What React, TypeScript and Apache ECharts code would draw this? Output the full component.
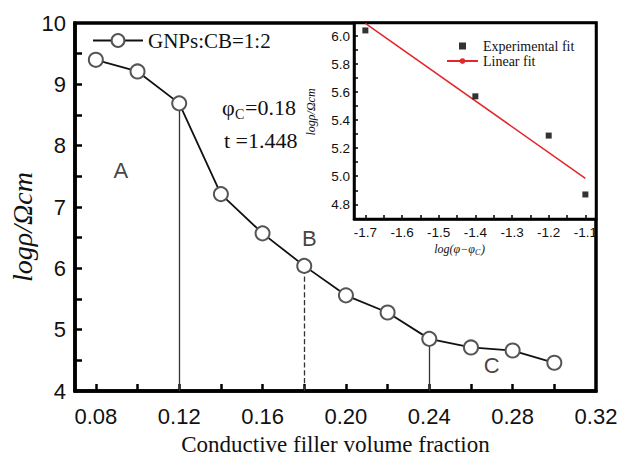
import React, { useEffect, useRef } from 'react';
import * as echarts from 'echarts';

// Main curve
const fillerFraction = [0.08, 0.10, 0.12, 0.14, 0.16, 0.18, 0.20, 0.22, 0.24, 0.26, 0.28, 0.30];
const logResistivity = [9.40, 9.21, 8.69, 7.21, 6.57, 6.04, 5.56, 5.28, 4.85, 4.71, 4.66, 4.46];
const mainXLabels = [0.08, 0.12, 0.16, 0.20, 0.24, 0.28, 0.32];
const mainXTickValues = [0.08, 0.10, 0.12, 0.14, 0.16, 0.18, 0.20, 0.22, 0.24, 0.26, 0.28, 0.30];
const mainYLabels = [4, 5, 6, 7, 8, 9, 10];
const mainYTickValues = [4.5, 5, 5.5, 6, 6.5, 7, 7.5, 8, 8.5, 9, 9.5];
const dropLineX = [0.12, 0.18, 0.24];
const dropLineDashed = [false, true, false];
const regionLabels = ['A', 'B', 'C'];
const regionLabelX = [0.092, 0.1825, 0.27];
const regionLabelY = [7.6, 6.48, 4.41];

// Inset
const insetLogPhi = [-1.7, -1.4, -1.2, -1.1];
const insetLogRho = [6.04, 5.57, 5.29, 4.87];
const fitX = [-1.7, -1.1];
const fitY = [6.09, 4.985];
const insetXLabels = [-1.7, -1.6, -1.5, -1.4, -1.3, -1.2, -1.1];
const insetXTickValues = [-1.7, -1.65, -1.6, -1.55, -1.5, -1.45, -1.4, -1.35, -1.3, -1.25, -1.2, -1.15, -1.1];
const insetYLabels = [4.8, 5.0, 5.2, 5.4, 5.6, 5.8, 6.0];
const insetYTickValues = [4.7, 4.8, 4.9, 5.0, 5.1, 5.2, 5.3, 5.4, 5.5, 5.6, 5.7, 5.8, 5.9, 6.0];

const SANS = 'Liberation Sans';
const SERIF = 'Liberation Serif';

const MAIN = { left: 75, top: 23, width: 521, height: 368 };
const INSET = { left: 354, top: 23, width: 242, height: 196 };

export default function App() {
  const ref = useRef<HTMLDivElement>(null);
  useEffect(() => {
    if (!ref.current) return;
    const chart = echarts.init(ref.current, undefined, { renderer: 'svg' });
    const dropData = dropLineX.map((x, i) => [
      { coord: [x, 4], lineStyle: { type: dropLineDashed[i] ? 'dashed' : 'solid', color: '#333', width: 1.3 } },
      { coord: [x, logResistivity[fillerFraction.indexOf(x)]] },
    ]);
    const txt = (text: string, x: number, y: number, size: number, opts: any = {}) => ({
      type: 'text', x, y, rotation: opts.rotation || 0, z: 50,
      style: {
        text, fontSize: size, fontFamily: SERIF, fontStyle: opts.italic ? 'italic' : 'normal',
        fill: '#111', align: opts.align || 'left', verticalAlign: 'middle',
      },
    });
    const option: any = {
      animation: false,
      grid: [
        { ...MAIN, outerBoundsMode: 'none', containLabel: false, show: true, borderColor: '#000', borderWidth: 3.5 },
        { ...INSET, outerBoundsMode: 'none', containLabel: false, show: true, borderColor: '#000', borderWidth: 2.5, backgroundColor: '#fff' },
      ],
      xAxis: [
        {
          type: 'value', gridIndex: 0, min: 0.07, max: 0.32,
          axisLine: { show: true, lineStyle: { color: '#000', width: 3.5 } },
          axisTick: { show: true, inside: true, length: 7, customValues: mainXTickValues, lineStyle: { color: '#000', width: 2.5 } },
          axisLabel: { customValues: mainXLabels, formatter: (v: number) => v.toFixed(2), fontSize: 22, fontFamily: SANS, color: '#111', margin: 14 },
          splitLine: { show: false },
          name: 'Conductive filler volume fraction', nameLocation: 'middle', nameGap: 42,
          nameTextStyle: { fontSize: 23, fontFamily: SERIF, color: '#111' },
        },
        {
          type: 'value', gridIndex: 1, min: -1.731, max: -1.071,
          axisLine: { show: true, lineStyle: { color: '#000', width: 2.5 } },
          axisTick: { show: true, inside: true, length: 4, customValues: insetXTickValues, lineStyle: { color: '#000', width: 1.5 } },
          axisLabel: { customValues: insetXLabels, formatter: (v: number) => v.toFixed(1), fontSize: 13.5, fontFamily: SANS, color: '#111', margin: 6 },
          splitLine: { show: false },
        },
      ],
      yAxis: [
        {
          type: 'value', gridIndex: 0, min: 4, max: 10,
          axisLine: { show: true, lineStyle: { color: '#000', width: 3.5 } },
          axisTick: { show: true, inside: true, length: 7, customValues: mainYTickValues, lineStyle: { color: '#000', width: 2.5 } },
          axisLabel: { customValues: mainYLabels, fontSize: 22, fontFamily: SANS, color: '#111', margin: 9 },
          splitLine: { show: false },
        },
        {
          type: 'value', gridIndex: 1, min: 4.695, max: 6.093,
          axisLine: { show: true, lineStyle: { color: '#000', width: 2.5 } },
          axisTick: { show: true, inside: true, length: 4, customValues: insetYTickValues, lineStyle: { color: '#000', width: 1.5 } },
          axisLabel: { customValues: insetYLabels, formatter: (v: number) => v.toFixed(1), fontSize: 13.5, fontFamily: SANS, color: '#111', margin: 4 },
          splitLine: { show: false },
        },
      ],
      legend: [
        {
          data: ['GNPs:CB=1:2'], left: 92, top: 30, padding: 0, itemWidth: 50, itemHeight: 16,
          textStyle: { fontSize: 21, fontFamily: SERIF, color: '#111' },
        },
        {
          data: [{ name: 'Experimental fit', icon: 'path://M0,0L1,0L1,1L0,1Z' }, 'Linear fit'],
          orient: 'vertical', left: 446, top: 39, padding: 0, itemWidth: 31, itemHeight: 7, itemGap: 1,
          textStyle: { fontSize: 14, fontFamily: SERIF, color: '#111' },
        },
      ],
      series: [
        {
          name: 'GNPs:CB=1:2', type: 'line', xAxisIndex: 0, yAxisIndex: 0,
          data: fillerFraction.map((x, i) => [x, logResistivity[i]]),
          symbol: 'emptyCircle', symbolSize: 14,
          itemStyle: { color: '#555', borderColor: '#555', borderWidth: 1.3 },
          lineStyle: { color: '#111', width: 1.8 },
          z: 3,
          markLine: { symbol: ['none', 'none'], label: { show: false }, data: dropData, z: 1 },
        },
        {
          name: 'regions', type: 'scatter', xAxisIndex: 0, yAxisIndex: 0, symbolSize: 1,
          itemStyle: { color: 'rgba(0,0,0,0)' },
          data: regionLabels.map((n, i) => ({ name: n, value: [regionLabelX[i], regionLabelY[i]] })),
          label: { show: true, position: 'inside', formatter: '{b}', fontSize: 22, fontFamily: SANS, color: '#111' },
        },
        {
          name: 'Experimental fit', type: 'scatter', xAxisIndex: 1, yAxisIndex: 1,
          data: insetLogPhi.map((x, i) => [x, insetLogRho[i]]),
          symbol: 'rect', symbolSize: 6, itemStyle: { color: '#000' }, z: 4,
        },
        {
          name: 'Linear fit', type: 'line', xAxisIndex: 1, yAxisIndex: 1,
          data: fitX.map((x, i) => [x, fitY[i]]),
          symbol: 'none', lineStyle: { color: '#e3262b', width: 1.5 }, itemStyle: { color: '#e3262b' }, z: 3,
        },
      ],
      graphic: [
        txt('logρ/Ωcm', 22, 227, 28, { italic: true, align: 'center', rotation: Math.PI / 2 }),
        txt('logρ/Ωcm', 311, 112, 12, { italic: true, align: 'center', rotation: Math.PI / 2 }),
        txt('log(φ−φ', 475, 249, 12, { italic: true, align: 'right' }),
        txt('C', 475, 252, 8, { italic: true }),
        txt(')', 481, 249, 12, { italic: true }),
        txt('φ', 222, 107, 22),
        txt('C', 235, 114, 14),
        txt('=0.18', 245, 107, 22),
        txt('t =1.448', 224, 140, 22),
      ],
    };
    chart.setOption(option);
    return () => chart.dispose();
  }, []);
  return <div ref={ref} style={{ position: 'absolute', left: 0, top: 0, width: 621, height: 453 }} />;
}
